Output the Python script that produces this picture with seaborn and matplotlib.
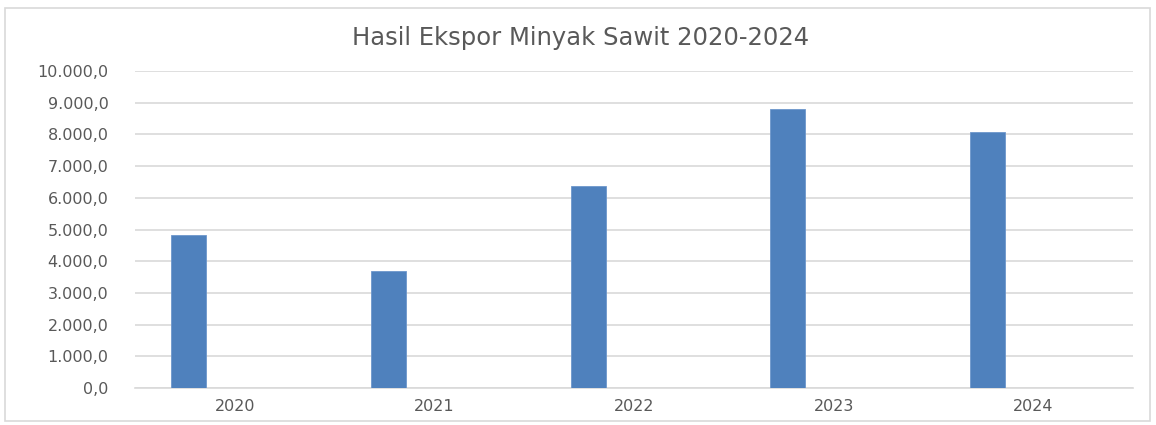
import numpy as np
import pandas as pd
import matplotlib
matplotlib.use("Agg")
import matplotlib.pyplot as plt
import seaborn as sns
from matplotlib.patches import Rectangle

# Data
years = ["2020", "2021", "2022", "2023", "2024"]
export_values = [4820, 3690, 6370, 8790, 8085]
ytick_values = [0, 1000, 2000, 3000, 4000, 5000, 6000, 7000, 8000, 9000, 10000]
ytick_labels = ["0,0", "1.000,0", "2.000,0", "3.000,0", "4.000,0", "5.000,0",
                "6.000,0", "7.000,0", "8.000,0", "9.000,0", "10.000,0"]
title = "Hasil Ekspor Minyak Sawit 2020-2024"

sns.set_theme(style="white")
plt.rcParams['font.family'] = ['DejaVu Sans']

W, H = 1156, 425
fig = plt.figure(figsize=(W / 100, H / 100), dpi=100)
ax = fig.add_axes([135 / W, 1 - 388 / H, (1133 - 135) / W, (388 - 71) / H])

bar_offset = -0.23
bar_width = 0.175
df = pd.DataFrame({"pos": np.arange(len(years)) + bar_offset, "value": export_values})
sns.barplot(data=df, x="pos", y="value", native_scale=True, width=bar_width,
            color="#4f81bd", saturation=1, edgecolor="#6d97cc", linewidth=0.6, ax=ax,
            zorder=3)

ax.set_xlim(-0.5, len(years) - 0.5)
ax.set_ylim(0, 10000)
ax.set_xticks(np.arange(len(years)))
ax.set_xticklabels(years)
ax.set_yticks(ytick_values)
ax.set_yticklabels(ytick_labels)
ax.set_xlabel("")
ax.set_ylabel("")

ax.grid(axis="y", color="#d9d9d9", linewidth=1.2, zorder=0)
ax.grid(axis="x", visible=False)
for s in ["top", "right", "left"]:
    ax.spines[s].set_visible(False)
ax.spines["bottom"].set_color("#d9d9d9")
ax.spines["bottom"].set_linewidth(1.2)
ax.tick_params(axis="both", length=0, colors="#595959", labelsize=11.5)
ax.tick_params(axis="y", pad=19)
ax.tick_params(axis="x", pad=8)

fig.text(581 / W, 1 - 38 / H, title, ha="center", va="center",
         fontsize=17.5, color="#595959")

# chart border
fig.patches.append(Rectangle((5 / W, 1 - 421 / H), (1150 - 5) / W, (421 - 8) / H,
                             transform=fig.transFigure, fill=False,
                             edgecolor="#d9d9d9", linewidth=1.2))

fig.savefig("out.png", dpi=100, facecolor="white")
